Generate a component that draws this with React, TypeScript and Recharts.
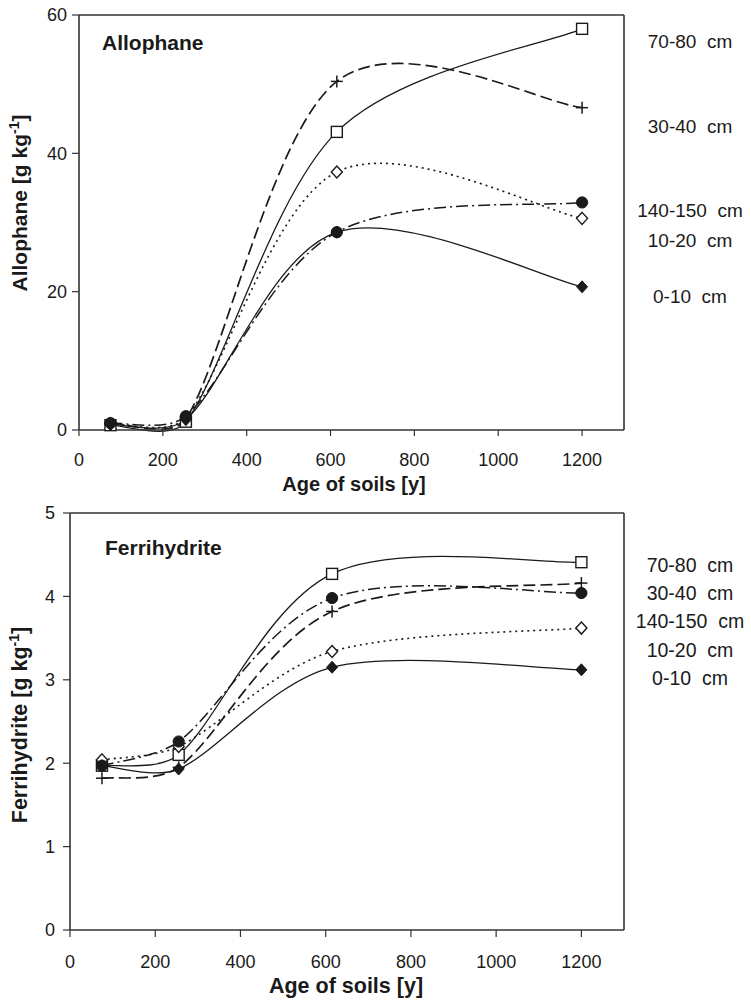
import React from 'react';
import { LineChart, Line, XAxis, YAxis, ReferenceLine } from 'recharts';

// ---------- data ----------
const ages = [75, 255, 615, 1200];

const allo_0_10 = [0.8, 1.5, 28.6, 20.7];
const allo_10_20 = [0.9, 1.8, 37.3, 30.6];
const allo_30_40 = [1.0, 1.6, 50.4, 46.6];
const allo_70_80 = [0.7, 1.2, 43.1, 58.0];
const allo_140_150 = [1.0, 2.0, 28.6, 32.9];

const ferri_0_10 = [1.97, 1.93, 3.15, 3.12];
const ferri_10_20 = [2.04, 2.2, 3.34, 3.62];
const ferri_30_40 = [1.82, 1.95, 3.82, 4.16];
const ferri_70_80 = [1.97, 2.1, 4.27, 4.41];
const ferri_140_150 = [1.97, 2.26, 3.98, 4.04];

const xTicks = [0, 200, 400, 600, 800, 1000, 1200];
const alloTicks = [0, 20, 40, 60];
const ferriTicks = [0, 1, 2, 3, 4, 5];

const depthLabels = ['70-80  cm', '30-40  cm', '140-150  cm', '10-20  cm', '0-10  cm'];

const alloData = ages.map((a, i) => ({
  age: a,
  d0: allo_0_10[i],
  d10: allo_10_20[i],
  d30: allo_30_40[i],
  d70: allo_70_80[i],
  d140: allo_140_150[i],
}));
const ferriData = ages.map((a, i) => ({
  age: a,
  d0: ferri_0_10[i],
  d10: ferri_10_20[i],
  d30: ferri_30_40[i],
  d70: ferri_70_80[i],
  d140: ferri_140_150[i],
}));

// ---------- Excel-like smoothed curve (Bezier, tension 1/6, clamped) ----------
const dist = (a: number[], b: number[]) => Math.hypot(a[0] - b[0], a[1] - b[1]);
const excelCurve: any = (context: any) => {
  let pts: number[][] = [];
  return {
    areaStart() {},
    areaEnd() {},
    lineStart() {
      pts = [];
    },
    point(x: number, y: number) {
      pts.push([+x, +y]);
    },
    lineEnd() {
      const n = pts.length;
      if (!n) return;
      context.moveTo(pts[0][0], pts[0][1]);
      for (let i = 0; i < n - 1; i++) {
        const p0 = pts[Math.max(0, i - 1)];
        const p1 = pts[i];
        const p2 = pts[i + 1];
        const p3 = pts[Math.min(n - 1, i + 2)];
        const d12 = dist(p1, p2);
        const d02 = dist(p0, p2);
        const d13 = dist(p1, p3);
        const lim = d12 / 3;
        let f1 = 1 / 6;
        let f2 = 1 / 6;
        if (d02 > 0 && d02 * f1 > lim) f1 = lim / d02;
        if (d13 > 0 && d13 * f2 > lim) f2 = lim / d13;
        context.bezierCurveTo(
          p1[0] + (p2[0] - p0[0]) * f1,
          p1[1] + (p2[1] - p0[1]) * f1,
          p2[0] - (p3[0] - p1[0]) * f2,
          p2[1] - (p3[1] - p1[1]) * f2,
          p2[0],
          p2[1]
        );
      }
    },
  };
};

const INK = '#1a1a1a';
const FONT = '"Liberation Sans", Arial, Helvetica, sans-serif';

// ---------- markers ----------
const mk = (kind: string) => (props: any) => {
  const { cx, cy, index } = props;
  if (cx == null || cy == null) return <g key={index} />;
  const k = `${kind}-${index}`;
  switch (kind) {
    case 'square':
      return <rect key={k} x={cx - 5.5} y={cy - 5.5} width={11} height={11} fill="#fff" stroke={INK} strokeWidth={1.4} />;
    case 'plus':
      return (
        <g key={k} stroke={INK} strokeWidth={1.5}>
          <line x1={cx - 6} y1={cy} x2={cx + 6} y2={cy} />
          <line x1={cx} y1={cy - 6} x2={cx} y2={cy + 6} />
        </g>
      );
    case 'odiamond':
      return <polygon key={k} points={`${cx},${cy - 6} ${cx + 5.5},${cy} ${cx},${cy + 6} ${cx - 5.5},${cy}`} fill="#fff" stroke={INK} strokeWidth={1.4} />;
    case 'fdiamond':
      return <polygon key={k} points={`${cx},${cy - 6} ${cx + 5.5},${cy} ${cx},${cy + 6} ${cx - 5.5},${cy}`} fill={INK} stroke={INK} strokeWidth={1} />;
    case 'circle':
    default:
      return <circle key={k} cx={cx} cy={cy} r={5.6} fill={INK} stroke={INK} />;
  }
};

const seriesDefs = [
  { key: 'd70', dash: undefined, width: 1.3, marker: 'square' },
  { key: 'd30', dash: '12 5', width: 1.7, marker: 'plus' },
  { key: 'd10', dash: '2 4', width: 1.6, marker: 'odiamond' },
  { key: 'd0', dash: undefined, width: 1.3, marker: 'fdiamond' },
  { key: 'd140', dash: '12 4 2 4', width: 1.5, marker: 'circle' },
];

type PanelProps = {
  data: any[];
  yMax: number;
  yTicks: number[];
  height: number;
  margin: any;
  yTickMargin: number;
  xTickMargin: number;
  xTickSize: number;
};

const Panel = ({ data, yMax, yTicks, height, margin, yTickMargin, xTickMargin, xTickSize }: PanelProps) => (
  <LineChart width={751} height={height} data={data} margin={margin}>
    <XAxis
      dataKey="age"
      type="number"
      domain={[0, 1300]}
      ticks={xTicks}
      interval={0}
      tickSize={xTickSize}
      tickMargin={xTickMargin}
      height={30}
      axisLine={{ stroke: '#333', strokeWidth: 1.6 }}
      tickLine={{ stroke: '#333', strokeWidth: 1.2 }}
      tick={{ fontSize: 18, fill: INK, fontFamily: FONT }}
    />
    <YAxis
      type="number"
      domain={[0, yMax]}
      ticks={yTicks}
      interval={0}
      width={60}
      tickSize={7}
      tickMargin={yTickMargin}
      axisLine={{ stroke: '#333', strokeWidth: 1.6 }}
      tickLine={{ stroke: '#333', strokeWidth: 1.2 }}
      tick={{ fontSize: 18, fill: INK, fontFamily: FONT }}
    />
    <ReferenceLine y={yMax} stroke="#333" strokeWidth={1.6} />
    <ReferenceLine x={1300} stroke="#333" strokeWidth={1.6} />
    {seriesDefs.map((s) => (
      <Line
        key={s.key}
        dataKey={s.key}
        type={excelCurve}
        stroke={INK}
        strokeWidth={s.width}
        strokeDasharray={s.dash}
        dot={mk(s.marker)}
        activeDot={false}
        isAnimationActive={false}
      />
    ))}
  </LineChart>
);

const topLegendY = [48, 133, 217, 247, 303];
const botLegendY = [572, 600, 628, 657, 685];

export default function App() {
  return (
    <div style={{ position: 'absolute', left: 0, top: 0, width: 751, height: 1002, background: '#fff' }}>
      <div style={{ position: 'absolute', left: 0, top: 0 }}>
        <Panel
          data={alloData}
          yMax={60}
          yTicks={alloTicks}
          height={500}
          margin={{ top: 15, right: 127, left: 19, bottom: 40 }}
          yTickMargin={5}
          xTickMargin={17}
          xTickSize={6}
        />
      </div>
      <div style={{ position: 'absolute', left: 0, top: 500 }}>
        <Panel
          data={ferriData}
          yMax={5}
          yTicks={ferriTicks}
          height={502}
          margin={{ top: 13, right: 127, left: 10, bottom: 42 }}
          yTickMargin={8}
          xTickMargin={18}
          xTickSize={7}
        />
      </div>
      <svg
        width={751}
        height={1002}
        style={{ position: 'absolute', left: 0, top: 0, pointerEvents: 'none' }}
        fontFamily={FONT}
        fill={INK}
      >
        {/* panel titles */}
        <text x={102} y={50} fontSize={21} fontWeight="bold">Allophane</text>
        <text x={105} y={555} fontSize={21} fontWeight="bold">Ferrihydrite</text>

        {/* x axis titles */}
        <text x={354} y={491} fontSize={20} fontWeight="bold" textAnchor="middle">Age of soils [y]</text>
        <text x={346} y={993} fontSize={21.5} fontWeight="bold" textAnchor="middle">Age of soils [y]</text>

        {/* y axis titles */}
        <text x={27} y={203} fontSize={21} fontWeight="bold" textAnchor="middle" transform="rotate(-90 27 203)">
          Allophane [g kg<tspan dy={-8} fontSize={14}>-1</tspan><tspan dy={8}>]</tspan>
        </text>
        <text x={27} y={725} fontSize={21.5} fontWeight="bold" textAnchor="middle" transform="rotate(-90 27 725)">
          Ferrihydrite [g kg<tspan dy={-8} fontSize={14}>-1</tspan><tspan dy={8}>]</tspan>
        </text>

        {/* depth labels */}
        {depthLabels.map((t, i) => (
          <text key={'t' + i} x={690} y={topLegendY[i]} fontSize={19} textAnchor="middle" style={{ whiteSpace: 'pre' }}>{t}</text>
        ))}
        {depthLabels.map((t, i) => (
          <text key={'b' + i} x={690} y={botLegendY[i]} fontSize={19.5} textAnchor="middle" style={{ whiteSpace: 'pre' }}>{t}</text>
        ))}
      </svg>
    </div>
  );
}
